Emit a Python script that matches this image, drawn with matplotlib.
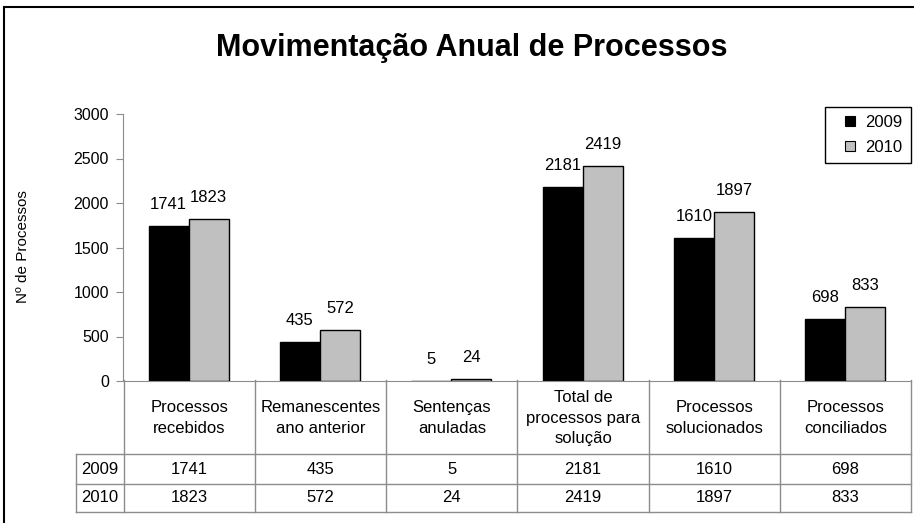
import matplotlib.pyplot as plt
from matplotlib.lines import Line2D
from matplotlib.patches import Rectangle

plt.rcParams['font.family'] = ['Liberation Sans', 'DejaVu Sans']

# data
categories = ['Processos\nrecebidos', 'Remanescentes\nano anterior', 'Sentenças\nanuladas',
              'Total de\nprocessos para\nsolução', 'Processos\nsolucionados', 'Processos\nconciliados']
years = ['2009', '2010']
values_2009 = [1741, 435, 5, 2181, 1610, 698]
values_2010 = [1823, 572, 24, 2419, 1897, 833]
y_ticks = [0, 500, 1000, 1500, 2000, 2500, 3000]

W, H = 914, 523
GRID = '#8c8c8c'
FS = 12
colors = ['black', '#c0c0c0']

fig = plt.figure(figsize=(W / 100, H / 100), dpi=100)

# outer chart border (runs off the right and bottom edges)
fig.add_artist(Rectangle((4 / W, -0.1), 1.2, 1 - 7 / H + 0.1, transform=fig.transFigure,
                         fill=False, edgecolor='black', linewidth=1.5))

fig.text(472 / W, 1 - 48 / H, 'Movimentação Anual de Processos',
         ha='center', va='center', fontsize=22, fontweight='bold')

# plot area
ax = fig.add_axes([123 / W, 1 - 381 / H, (911 - 123) / W, (381 - 114) / H])
n = len(categories)
bw = 0.305
xs = [i + 0.5 for i in range(n)]
b1 = ax.bar([x - bw / 2 for x in xs], values_2009, bw, color=colors[0], edgecolor='black', linewidth=1)
b2 = ax.bar([x + bw / 2 for x in xs], values_2010, bw, color=colors[1], edgecolor='black', linewidth=1)

for bars, vals in [(b1, values_2009), (b2, values_2010)]:
    for rect, v in zip(bars, vals):
        ax.annotate(str(v), (rect.get_x() + rect.get_width() / 2, v),
                    xytext=(0, 10), textcoords='offset points',
                    ha='center', va='bottom', fontsize=FS)

ax.set_xlim(0, n)
ax.set_ylim(0, 3000)
ax.set_yticks(y_ticks)
ax.set_xticks([])
ax.tick_params(axis='y', direction='out', length=5, color=GRID, labelsize=11.5, pad=5)
for s in ['top', 'right']:
    ax.spines[s].set_visible(False)
for s in ['left', 'bottom']:
    ax.spines[s].set_color(GRID)
ax.patch.set_alpha(0)

fig.text(23 / W, 1 - 247 / H, 'Nº de Processos', rotation=90, ha='center', va='center', fontsize=11)

# legend with small square markers
handles = [Line2D([], [], linestyle='none', marker='s', markersize=6.5,
                  markerfacecolor=c, markeredgecolor='black', markeredgewidth=0.8) for c in colors]
leg = fig.legend(handles, years, loc='upper right', bbox_to_anchor=(911 / W, 1 - 107 / H),
                 fontsize=FS, fancybox=False, edgecolor='black', framealpha=1,
                 handlelength=1.9, handletextpad=0.0, labelspacing=0.55,
                 borderpad=0.5, borderaxespad=0)
leg.get_frame().set_linewidth(1)

# data table under the plot
lab_w = (124 - 76) / 131.3
tab = fig.add_axes([76 / W, 1 - 512 / H, (911 - 76) / W, (512 - 380) / H])
tab.set_xlim(-lab_w, n)
tab.set_ylim(132, 0)
tab.axis('off')
row_lines = [74, 104, 132]
for y in row_lines:
    tab.plot([-lab_w, n], [y, y], color=GRID, lw=1, clip_on=False)
for i in range(n + 1):
    tab.plot([i, i], [0, 132], color=GRID, lw=1, clip_on=False)
tab.plot([-lab_w, -lab_w], [74, 132], color=GRID, lw=1, clip_on=False)

for i, c in enumerate(categories):
    tab.text(i + 0.5, 38, c, ha='center', va='center', fontsize=FS, linespacing=1.45)
for y, year, vals in [(89, years[0], values_2009), (118, years[1], values_2010)]:
    tab.text(-lab_w + 0.04, y, year, ha='left', va='center', fontsize=FS)
    for i, v in enumerate(vals):
        tab.text(i + 0.5, y, str(v), ha='center', va='center', fontsize=FS)

fig.savefig('out.png', dpi=100)
